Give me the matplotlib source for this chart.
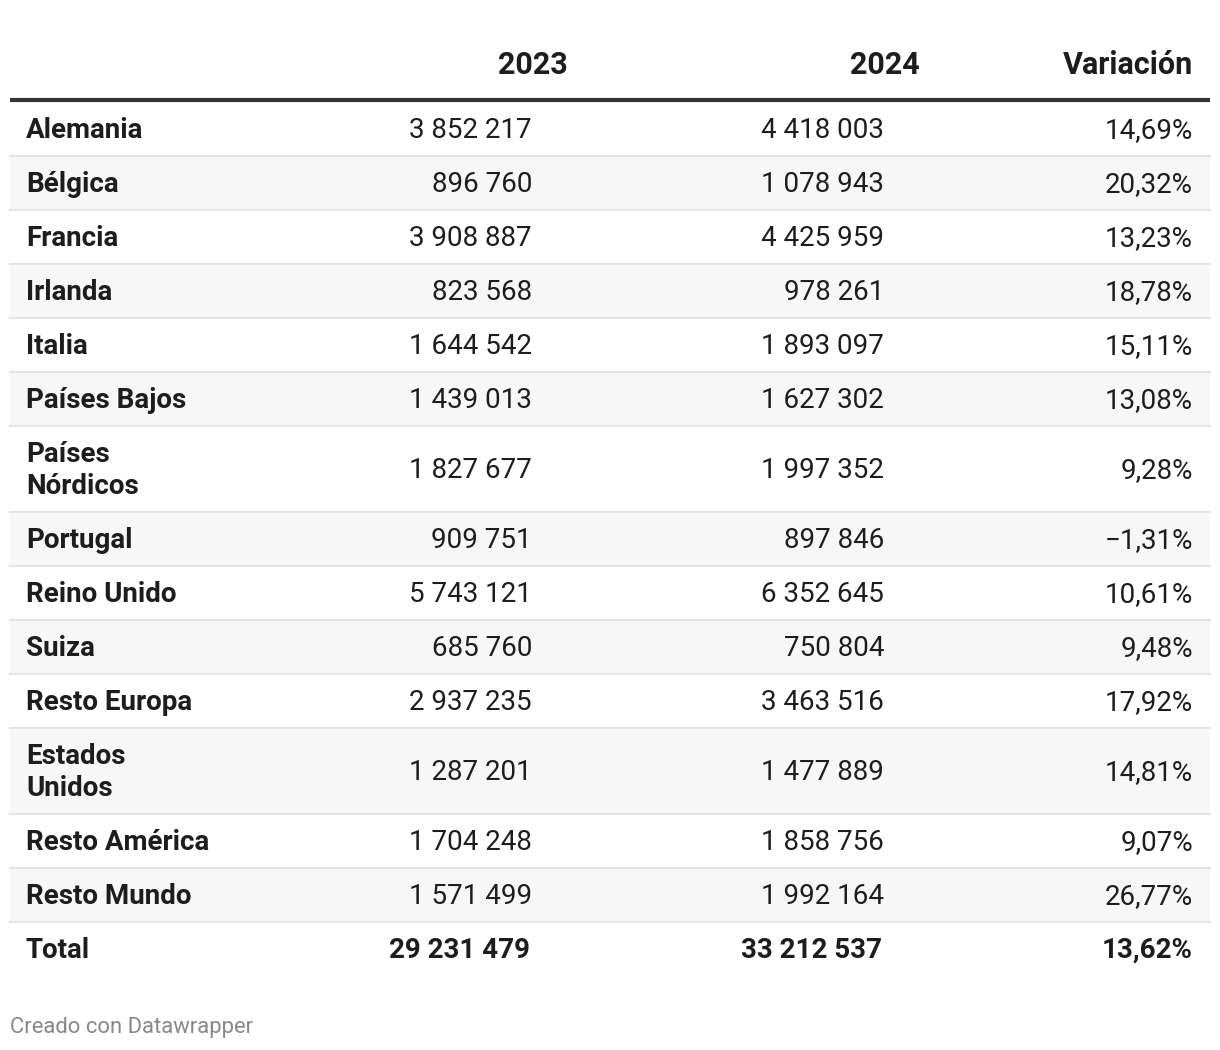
import matplotlib
matplotlib.use("Agg")
import matplotlib.pyplot as plt
from matplotlib.patches import Rectangle

plt.rcParams['font.family'] = ['Roboto', 'DejaVu Sans']

countries = ["Alemania", "Bélgica", "Francia", "Irlanda", "Italia", "Países Bajos",
             "Países\nNórdicos", "Portugal", "Reino Unido", "Suiza", "Resto Europa",
             "Estados\nUnidos", "Resto América", "Resto Mundo"]
values_2023 = [3852217, 896760, 3908887, 823568, 1644542, 1439013, 1827677, 909751,
               5743121, 685760, 2937235, 1287201, 1704248, 1571499]
values_2024 = [4418003, 1078943, 4425959, 978261, 1893097, 1627302, 1997352, 897846,
               6352645, 750804, 3463516, 1477889, 1858756, 1992164]
variation = [14.69, 20.32, 13.23, 18.78, 15.11, 13.08, 9.28, -1.31, 10.61, 9.48,
             17.92, 14.81, 9.07, 26.77]
total_label = "Total"
total_2023 = 29231479
total_2024 = 33212537
total_variation = 13.62
headers = ["", "2023", "2024", "Variación"]

W, H = 1220, 1050
fig = plt.figure(figsize=(W / 100, H / 100), dpi=100)
ax = fig.add_axes([0, 0, 1, 1])
ax.set_xlim(0, W)
ax.set_ylim(H, 0)
ax.axis("off")

TXT = "#1d1d1d"
FS = 20.0   # body pt
FSH = 22.0  # header pt


def fmt_int(v):
    return f"{v:,}".replace(",", " ")


def fmt_pct(v):
    s = f"{abs(v):.2f}".replace(".", ",") + "%"
    return ("\u2212" if v < 0 else "") + s


left, right = 10, 1210
x_label = 26
x_cols = [532, 884, 1193]
x_heads = [568, 920, 1193]
dy = 1.5  # small downward text offset

# header
for h, x in zip(headers[1:], x_heads):
    ax.text(x, 65, h, ha="right", va="center", fontsize=FSH, fontweight="bold", color=TXT)
ax.plot([left, right], [100, 100], color="#333333", lw=3, solid_capstyle="butt")

y = 102
single_h, double_h = 54, 86
for i, c in enumerate(countries):
    h = double_h if "\n" in c else single_h
    if i % 2 == 1:
        ax.add_patch(Rectangle((left, y), right - left, h, facecolor="#f7f7f7", edgecolor="none"))
    ax.plot([left, right], [y + h, y + h], color="#e4e4e4", lw=1.5)
    cy = y + h / 2 + dy
    ax.text(x_label, cy, c, ha="left", va="center", fontsize=FS, fontweight="bold",
            color=TXT, linespacing=1.24)
    ax.text(x_cols[0], cy, fmt_int(values_2023[i]), ha="right", va="center", fontsize=FS, color=TXT)
    ax.text(x_cols[1], cy, fmt_int(values_2024[i]), ha="right", va="center", fontsize=FS, color=TXT)
    ax.text(x_cols[2], cy, fmt_pct(variation[i]), ha="right", va="center", fontsize=FS, color=TXT)
    y += h

cy = y + single_h / 2 + dy
ax.text(x_label, cy, total_label, ha="left", va="center", fontsize=FS, fontweight="bold", color=TXT)
ax.text(x_cols[0] - 2, cy, fmt_int(total_2023), ha="right", va="center", fontsize=FS, fontweight="bold", color=TXT)
ax.text(x_cols[1] - 2, cy, fmt_int(total_2024), ha="right", va="center", fontsize=FS, fontweight="bold", color=TXT)
ax.text(x_cols[2], cy, fmt_pct(total_variation), ha="right", va="center", fontsize=FS, fontweight="bold", color=TXT)

ax.text(10, 1027, "Creado con Datawrapper", ha="left", va="center", fontsize=15.8, color="#888888")

fig.savefig("out.png", dpi=100, facecolor="white")
